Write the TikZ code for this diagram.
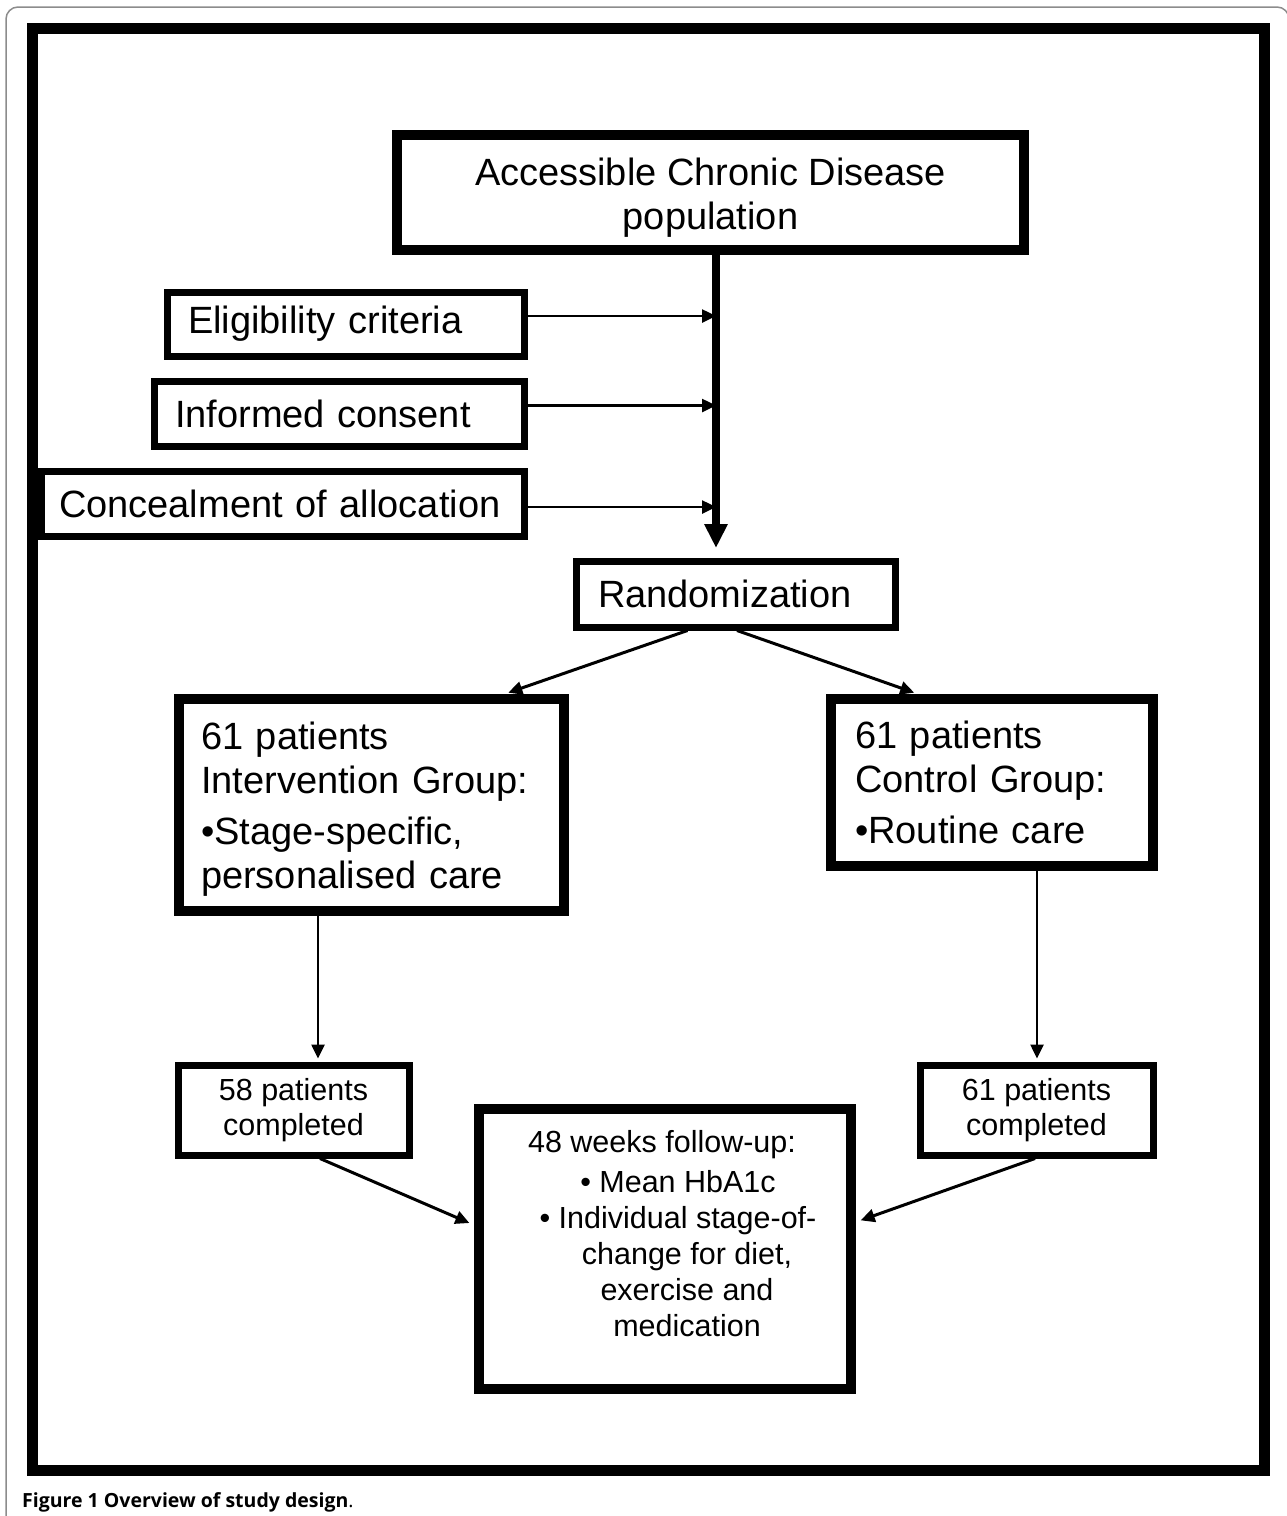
\documentclass[tikz,border=0pt]{standalone}
\usepackage{fontspec}
\setmainfont{Liberation Sans}
\newfontfamily\capfont{Open Sans}
\usetikzlibrary{arrows.meta}

\begin{document}
\begin{tikzpicture}[x=1pt, y=-1pt,
    flowbox/.style={draw, line width=7pt, inner xsep=21pt, inner ysep=0pt, font=\fontsize{38}{44}\selectfont},
    heavybox/.style={flowbox, line width=10pt},
    countbox/.style={draw, line width=7pt, align=center, font=\fontsize{30.5}{35}\selectfont},
    feed/.style={line width=2.5pt, -{Triangle[length=14pt, width=13pt]}}]
    \useasboundingbox (0,0) rectangle (1287,1516);
    \draw[black!45, line width=1.5pt, rounded corners=12pt] (6,1530) -- (6,7) -- (1289,7) -- (1289,1530);
    \draw[line width=11pt] (32.5,28.5) rectangle (1264.5,1470.5);
    \node[heavybox, minimum width=627pt, minimum height=115pt, align=center] (pop) at (710.5,192.5) {\rule{0pt}{38pt}Accessible Chronic Disease\\population};
    \node[flowbox, text width=315pt, minimum height=64pt, align=left] (elig) at (345.5,324) {Eligibility criteria};
    \node[flowbox, text width=328pt, minimum height=65pt, align=left] (inform) at (339,413.5) {Informed consent};
    \node[flowbox, inner xsep=18pt, text width=447pt, minimum height=65pt, align=left] (conceal) at (282.5,503.5) {Concealment of allocation};
    \node[flowbox, inner xsep=22pt, text width=275pt, minimum height=66pt, align=left] (rand) at (735.5,594) {Randomization};
    \node[heavybox, inner xsep=22pt, text width=341pt, minimum height=212pt, align=left] (interv) at (371.5,805) {\rule{0pt}{36pt}61 patients\\Intervention Group:\\[7pt]\textbullet Stage-specific,\\personalised care};
    \node[heavybox, inner xsep=24pt, text width=274pt, minimum height=167pt, align=left] (ctrl) at (992,782.5) {61 patients\\Control Group:\\[7pt]\textbullet Routine care};
    \node[countbox, minimum width=231pt, minimum height=90pt] (c58) at (293.5,1110) {58 patients\\completed};
    \node[countbox, minimum width=233pt, minimum height=90pt] (c61) at (1036.5,1110) {61 patients\\completed};
    \node[heavybox, minimum width=372pt, minimum height=280pt] (follow) at (665,1249) {};
    \node[align=center, font=\fontsize{30.5}{36}\selectfont] (followtxt) at (670,1234) {48 weeks follow-up:\hspace*{16pt}\\[4pt]\hspace*{16pt}\textbullet\ Mean HbA1c\\\hspace*{16pt}\textbullet\ Individual stage-of-\\\hspace*{34pt}change for diet,\\\hspace*{34pt}exercise and\\\hspace*{34pt}medication};
    \coordinate (trunk) at (716,548);
    \draw[line width=8pt, -{Triangle[length=24pt, width=22pt]}] (pop.south -| trunk) -- (trunk);
    \foreach \src/\dy in {elig/8, inform/8, conceal/-3.5}
        \draw[feed] ([yshift=\dy pt]\src.east) -- ([yshift=\dy pt]\src.east -| trunk);
    \draw[feed, line width=3pt, shorten >=4pt] ([xshift=-48pt]rand.south) -- ([xshift=133pt]interv.north);
    \draw[feed, line width=3pt, shorten >=4pt] ([xshift=1.5pt]rand.south) -- ([xshift=-74pt]ctrl.north);
    \draw[feed, shorten >=3pt] ([xshift=-53.5pt]interv.south) -- ([xshift=-53.5pt]interv.south |- c58.north);
    \draw[feed, shorten >=3pt] ([xshift=45pt]ctrl.south) -- ([xshift=45pt]ctrl.south |- c61.north);
    \draw[feed, line width=3pt, shorten >=5pt] ([xshift=26.5pt]c58.south) -- ([yshift=24pt]follow.west);
    \draw[feed, line width=3pt, shorten >=5pt] ([xshift=-1.5pt]c61.south) -- ([yshift=27pt]follow.east);
    \node[anchor=base west, inner sep=0pt, font=\capfont\fontsize{19.5}{22}\selectfont] (caption) at (22,1507) {\bfseries Figure 1 Overview of study design\mdseries.};
\end{tikzpicture}
\end{document}
